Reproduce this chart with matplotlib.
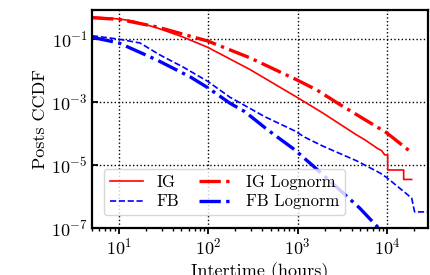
import numpy as np
import matplotlib
matplotlib.use("Agg")
import matplotlib.pyplot as plt
from matplotlib.ticker import LogLocator, NullFormatter

# ---- data ----
ig_x = [5, 10, 14.3, 26.6, 51.9, 98.7, 291, 975, 1900, 4560, 5610, 7640, 8690, 9380,
        10130, 10130, 15290, 15290, 18780]
ig_logy = [-0.30, -0.37, -0.43, -0.65, -0.94, -1.27, -1.97, -2.85, -3.35, -4.05, -4.20,
           -4.46, -4.55, -4.68, -4.68, -5.16, -5.16, -5.46, -5.46]

ig_ln_x = [5, 10, 26.6, 51.9, 98.7, 291, 975, 1631, 2944, 9870, 17830]
ig_ln_logy = [-0.33, -0.38, -0.62, -0.85, -1.07, -1.60, -2.30, -2.62, -3.08, -3.98, -4.56]

fb_x = [5, 10, 17.2, 28.7, 51.9, 98.7, 174, 428, 926, 1197, 1900, 4560, 8250, 9870,
        14530, 18780, 20280, 34000]
fb_logy = [-0.90, -1.01, -1.13, -1.51, -1.89, -2.35, -2.85, -3.47, -3.92, -4.12, -4.40,
           -4.87, -5.25, -5.40, -5.79, -6.05, -6.49, -6.49]

fb_ln_x = [5, 10, 26.6, 62.1, 98.7, 174, 256, 462, 926, 1197, 1471, 2944, 4930, 7640, 9380]
fb_ln_logy = [-0.95, -1.13, -1.67, -2.20, -2.55, -3.04, -3.31, -3.89, -4.52, -4.80, -5.02,
              -5.79, -6.37, -6.94, -7.20]

yticks = [1e-7, 1e-5, 1e-3, 1e-1]

plt.rcParams['mathtext.fontset'] = 'cm'
plt.rcParams['font.family'] = ['cmr10', 'DejaVu Serif']
plt.rcParams['axes.formatter.use_mathtext'] = True

fig = plt.figure(figsize=(4.3, 2.75), dpi=100)
ax = fig.add_axes([0.214, 0.171, 0.781, 0.793])

ax.plot(ig_x, 10 ** np.array(ig_logy), color='red', lw=1.2, ls='-', label='IG')
ax.plot(fb_x, 10 ** np.array(fb_logy), color='blue', lw=1.2, ls='--', label='FB')
ax.plot(ig_ln_x, 10 ** np.array(ig_ln_logy), color='red', lw=2.4, ls='-.', label='IG Lognorm')
ax.plot(fb_ln_x, 10 ** np.array(fb_ln_logy), color='blue', lw=2.4, ls='-.', label='FB Lognorm')

ax.set_xscale('log')
ax.set_yscale('log')
ax.set_xlim(5, 2.85e4)
ax.set_ylim(1e-7, 0.83)
ax.set_yticks(yticks)
ax.yaxis.set_minor_locator(plt.NullLocator())
ax.xaxis.set_minor_locator(LogLocator(base=10, subs=np.arange(2, 10)))
ax.xaxis.set_minor_formatter(NullFormatter())

ax.grid(True, which='major', color='black', ls=':', lw=1.0)
for s in ax.spines.values():
    s.set_linewidth(1.6)
ax.tick_params(axis='x', which='major', direction='out', length=4, width=1.3, labelsize=13, pad=2)
ax.tick_params(axis='x', which='minor', direction='out', length=2.5, width=1.0)
ax.tick_params(axis='y', which='major', direction='in', length=4, width=1.3, labelsize=13, pad=3)

ax.set_ylabel('Posts CCDF', fontsize=13, labelpad=2)
ax.set_xlabel('Intertime (hours)', fontsize=13, labelpad=4)

leg = ax.legend(ncol=2, loc='lower left', bbox_to_anchor=(0.01, 0.02), fontsize=12,
                frameon=True, framealpha=0.8, edgecolor='#cccccc',
                handlelength=2.0, columnspacing=1.2, borderpad=0.35, labelspacing=0.25)

fig.savefig('out.png', dpi=100)
